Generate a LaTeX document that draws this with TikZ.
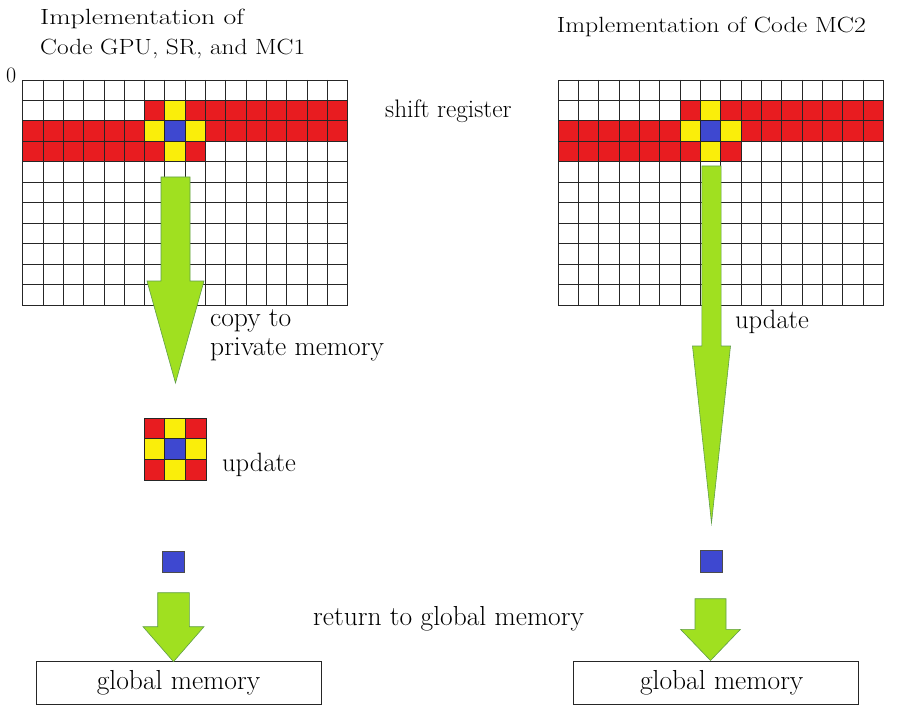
\documentclass[tikz,border=0pt]{standalone}
\usepackage{fontspec}
\usepackage{graphicx}
\usetikzlibrary{calc}

\definecolor{cellred}{RGB}{232,28,32}
\definecolor{cellyellow}{RGB}{250,238,10}
\definecolor{cellblue}{RGB}{62,72,208}
\definecolor{arrowgreen}{RGB}{160,224,32}
\definecolor{arrowedge}{RGB}{96,158,72}

% cell size of the shift-register grids
\newcommand\gcw{20.3125}
\newcommand\gch{20.4545}
% cell size of the private 3x3 block
\newcommand\pcs{20.667}

\tikzset{
  gridline/.style={draw=black!85, line width=0.9pt},
  blockarrow/.style={fill=arrowgreen, draw=arrowedge, line width=0.6pt, line join=miter},
  lbl/.style={font=\fontsize{27.5}{33}\selectfont, inner sep=0pt, anchor=base west},
  titlelbl/.style={font=\fontsize{22}{26}\selectfont, inner sep=0pt, anchor=base west},
  memorybox/.style={draw=black!85, line width=0.9pt, fill=white, inner sep=0pt,
    minimum width=285pt, minimum height=42.3pt, font=\fontsize{27.5}{33}\selectfont},
  bluecell/.style={draw=black!70, line width=0.7pt, fill=cellblue, inner sep=0pt,
    minimum width=21.6pt, minimum height=21.4pt},
}

% 16x11 grid with the stencil band; #1 node name, (#2,#3) top-left corner
\newcommand\stencilgrid[3]{%
  \begin{scope}[shift={(#2,#3)}]
    \foreach \c in {6,...,15} \fill[cellred] (\c*\gcw,\gch) rectangle ++(\gcw,\gch);
    \foreach \c in {0,...,15} \fill[cellred] (\c*\gcw,2*\gch) rectangle ++(\gcw,\gch);
    \foreach \c in {0,...,8} \fill[cellred] (\c*\gcw,3*\gch) rectangle ++(\gcw,\gch);
    \foreach \c/\r in {7/1,6/2,8/2,7/3} \fill[cellyellow] (\c*\gcw,\r*\gch) rectangle ++(\gcw,\gch);
    \fill[cellblue] (7*\gcw,2*\gch) rectangle ++(\gcw,\gch);
    \foreach \c in {1,...,15} \draw[gridline] (\c*\gcw,0) -- (\c*\gcw,11*\gch);
    \foreach \r in {1,...,10} \draw[gridline] (0,\r*\gch) -- (16*\gcw,\r*\gch);
    \draw[gridline] (0,0) rectangle (16*\gcw,11*\gch);
    \node[inner sep=0pt, minimum width=325pt, minimum height=225pt, anchor=north west] (#1) at (0,0) {};
  \end{scope}}

% block arrow: #1 top point, #2 tip point, #3 shaft half width,
% #4 head half width, #5 shaft length
\newcommand\blockarrow[5]{%
  \draw[blockarrow] let \p1=(#1), \p2=(#2) in
    (\x1-#3pt,\y1) -- (\x1+#3pt,\y1) -- (\x1+#3pt,\y1-#5pt) -- (\x1+#4pt,\y1-#5pt)
    -- (\x2,\y2) -- (\x1-#4pt,\y1-#5pt) -- (\x1-#3pt,\y1-#5pt) -- cycle;}

\begin{document}
\begin{tikzpicture}[x=1pt, y=-1pt]
  \useasboundingbox[fill=white] (0,0) rectangle (898,706);

  % titles
  \node[titlelbl] (titleA) at (40,25) {\scalebox{1.26}[1]{Implementation of}};
  \node[titlelbl] (titleB) at (40,55) {\scalebox{1.15}[1]{Code GPU, SR, and MC1}};
  \node[titlelbl] (titleC) at (556.7,33) {\scalebox{1.17}[1]{Implementation of Code MC2}};
  \node[titlelbl] (zero) at (6,83) {0};

  % shift-register grids
  \stencilgrid{gridL}{22.7}{80}
  \stencilgrid{gridR}{558.3}{80}

  % private 3x3 copy
  \begin{scope}[shift={(144,418)}]
    \foreach \c/\r in {0/0,2/0,0/2,2/2} \fill[cellred] (\c*\pcs,\r*\pcs) rectangle ++(\pcs,\pcs);
    \foreach \c/\r in {1/0,0/1,2/1,1/2} \fill[cellyellow] (\c*\pcs,\r*\pcs) rectangle ++(\pcs,\pcs);
    \fill[cellblue] (\pcs,\pcs) rectangle ++(\pcs,\pcs);
    \foreach \k in {1,2} {
      \draw[gridline] (\k*\pcs,0) -- (\k*\pcs,3*\pcs);
      \draw[gridline] (0,\k*\pcs) -- (3*\pcs,\k*\pcs);
    }
    \draw[gridline] (0,0) rectangle (3*\pcs,3*\pcs);
    \node[inner sep=0pt, minimum size=62pt, anchor=north west] (priv) at (0,0) {};
  \end{scope}

  % updated single cells
  \node[bluecell] (resL) at (173.5,561.7) {};
  \node[bluecell, minimum width=22.6pt] (resR) at (711.3,561.5) {};

  % global memory boxes
  \node[memorybox] (gmL) at (178.5,682.9) {global memory};
  \node[memorybox] (gmR) at (716.2,682.9) {\hspace{11pt}global memory};

  % arrow anchor points
  \coordinate (aLtop) at (175.5,177);
  \coordinate (aLtip) at (175.5,383);
  \coordinate (aRtop) at (711.5,166);
  \coordinate (aRtip) at (711.5,523);
  \coordinate (bLtop) at (173.5,592.7);
  \coordinate (bLtip) at (173.5,661.7);
  \coordinate (bRtop) at (710.5,598.7);
  \coordinate (bRtip) at (710.5,660.5);

  \blockarrow{aLtop}{aLtip}{14.5}{28.5}{104}
  \blockarrow{aRtop}{aRtip}{9.6}{19}{180}
  \blockarrow{bLtop}{bLtip}{15.8}{30.5}{34}
  \blockarrow{bRtop}{bRtip}{15.5}{30}{30.6}

  % labels
  \node[lbl, font=\fontsize{25.3}{30}\selectfont] (shiftreg) at (385,118) {shift register};
  \node[lbl] (copyA) at (210,326.7) {copy to};
  \node[lbl] (copyB) at (210,355) {private memory};
  \node[lbl, font=\fontsize{26.5}{32}\selectfont] (updR) at (735,328) {update};
  \node[lbl, font=\fontsize{26.5}{32}\selectfont] (updL) at (222,471.7) {update};
  \node[lbl] (retglob) at (313,625) {return to global memory};
\end{tikzpicture}
\end{document}
